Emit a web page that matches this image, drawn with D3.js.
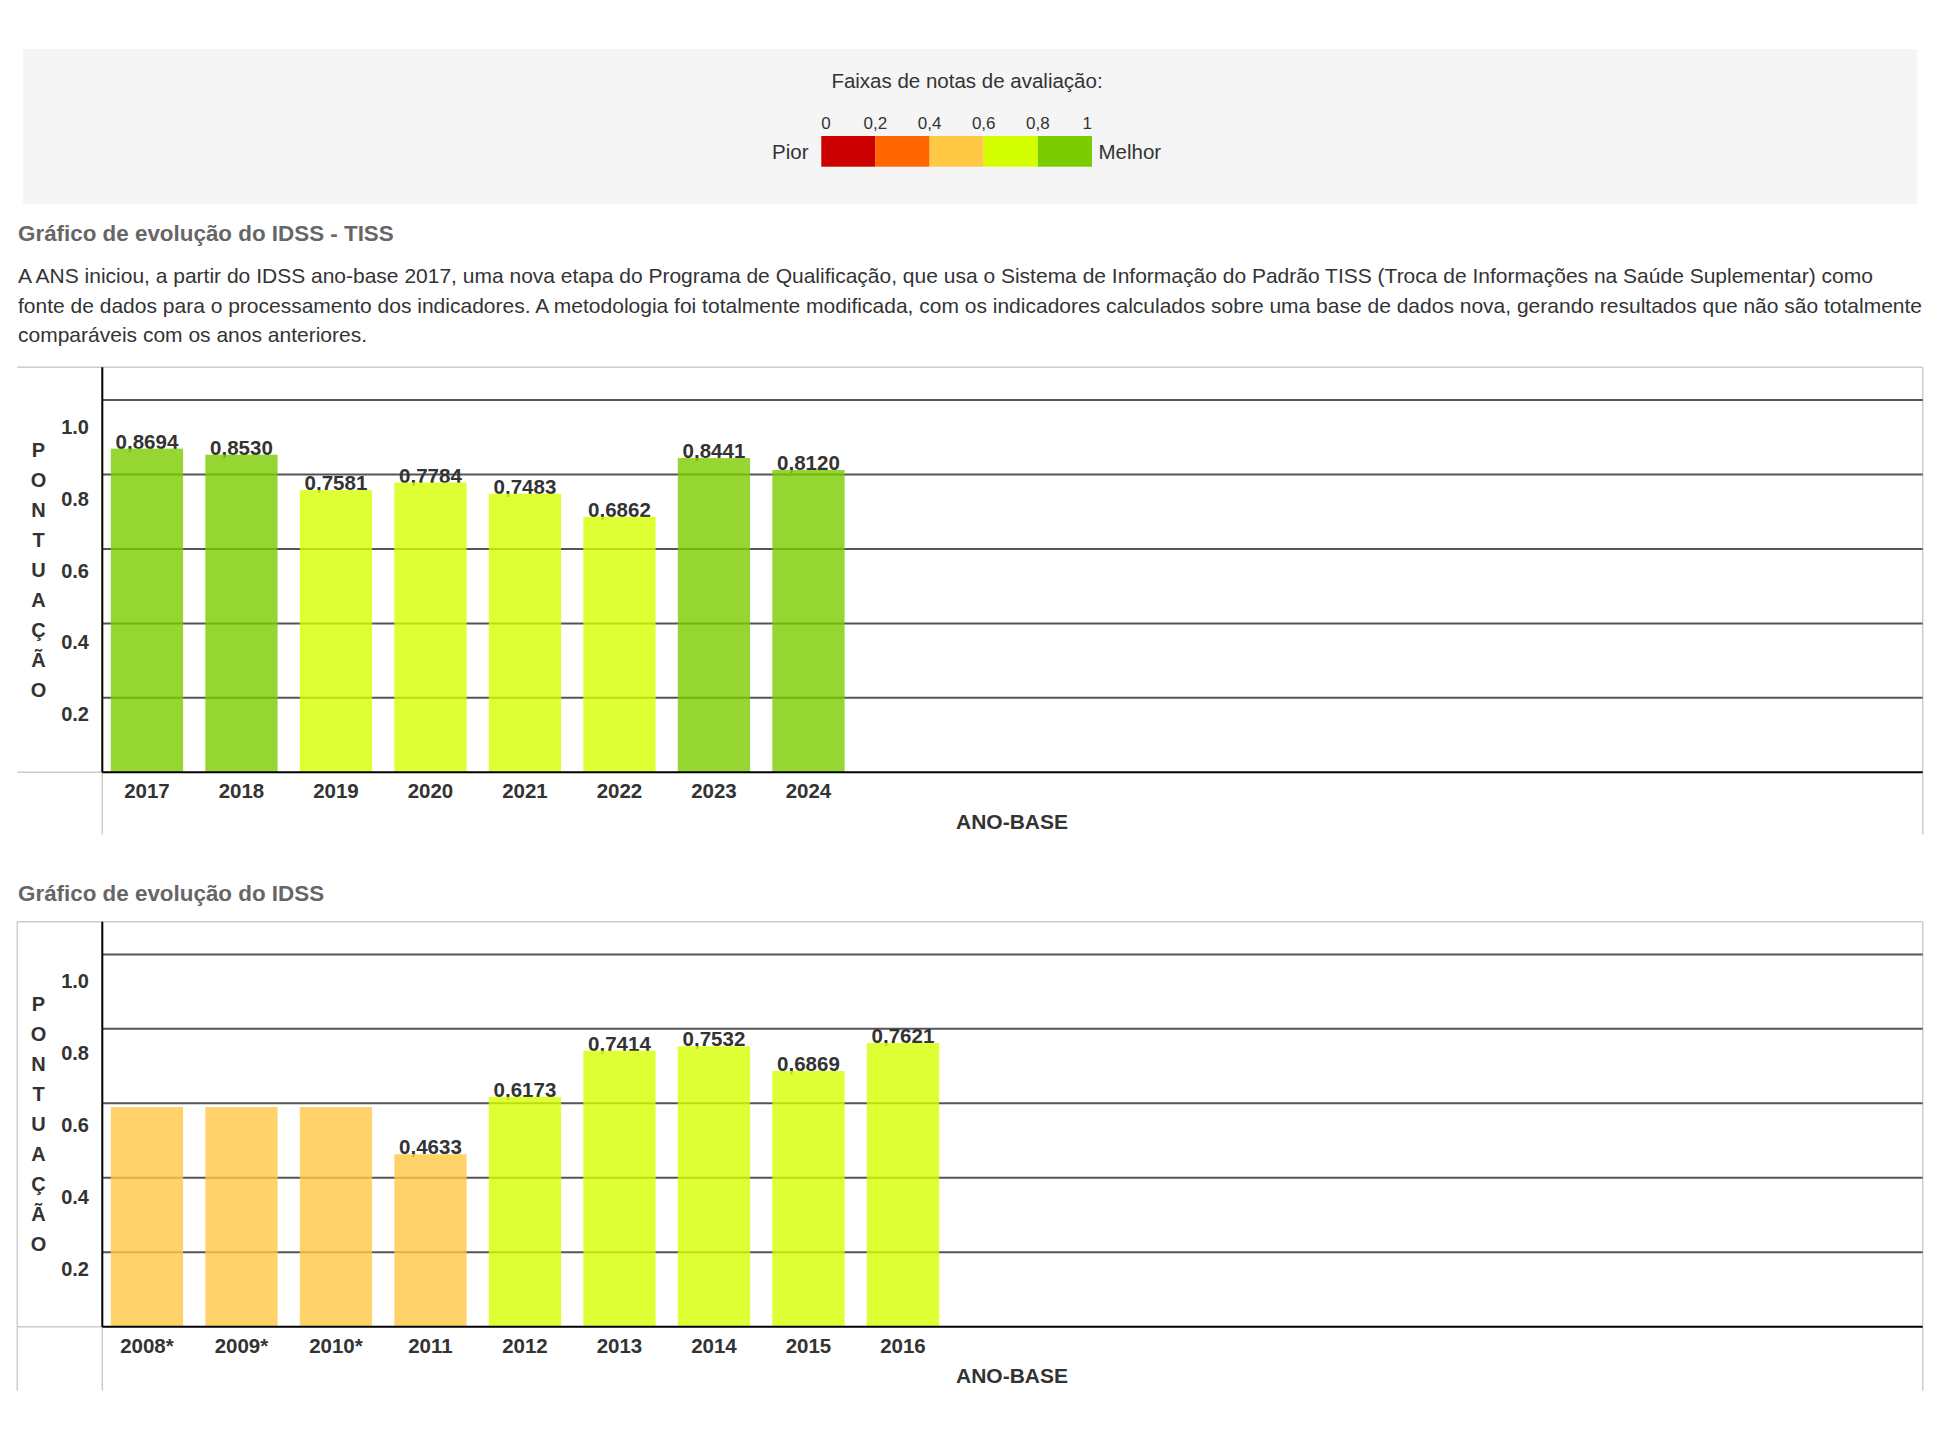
<!DOCTYPE html>
<html lang="pt-BR">
<head>
<meta charset="utf-8">
<script src="https://cdn.jsdelivr.net/npm/d3@7"></script>
<style>
  html, body { margin: 0; padding: 0; background: #fff; }
  svg { display: block; font-family: "Liberation Sans", Arial, sans-serif; }
</style>
</head>
<body>
<svg id="page" width="1942" height="1436"></svg>
<script>
// ---------------- DATA ----------------
const legendTitle = "Faixas de notas de avaliação:";
const legendStops = [0, 0.2, 0.4, 0.6, 0.8, 1];
const legendStopLabels = ["0", "0,2", "0,4", "0,6", "0,8", "1"];
const legendColors = ["#CC0000", "#FF6600", "#FFC845", "#D4FF00", "#7ACC00"];
const legendLow = "Pior";
const legendHigh = "Melhor";

const tissTitle = "Gráfico de evolução do IDSS - TISS";
const tissText = [
  "A ANS iniciou, a partir do IDSS ano-base 2017, uma nova etapa do Programa de Qualificação, que usa o Sistema de Informação do Padrão TISS (Troca de Informações na Saúde Suplementar) como",
  "fonte de dados para o processamento dos indicadores. A metodologia foi totalmente modificada, com os indicadores calculados sobre uma base de dados nova, gerando resultados que não são totalmente",
  "comparáveis com os anos anteriores."
];
const tissYears = ["2017", "2018", "2019", "2020", "2021", "2022", "2023", "2024"];
const tissValues = [0.8694, 0.8530, 0.7581, 0.7784, 0.7483, 0.6862, 0.8441, 0.8120];
const tissShowLabel = [true, true, true, true, true, true, true, true];

const idssTitle = "Gráfico de evolução do IDSS";
const idssYears = ["2008*", "2009*", "2010*", "2011", "2012", "2013", "2014", "2015", "2016"];
const idssValues = [0.59, 0.59, 0.59, 0.4633, 0.6173, 0.7414, 0.7532, 0.6869, 0.7621];
const idssShowLabel = [false, false, false, true, true, true, true, true, true];

const gridValues = [1.0, 0.8, 0.6, 0.4, 0.2];
const tickValues = [1.0, 0.8, 0.6, 0.4, 0.2];
const yAxisTitle = "PONTUAÇÃO";
const xAxisTitle = "ANO-BASE";

// ---------------- HELPERS ----------------
const svg = d3.select("#page");
const ptBR = d3.formatLocale({decimal: ",", thousands: ".", grouping: [3], currency: ["R$", ""]});
const fmtValue = ptBR.format(".4f");
const fmtTick = d3.format(".1f");
const bandColor = d3.scaleThreshold().domain(legendStops.slice(1, -1)).range(legendColors);
const TXT = "#333";
const LBL = 20.5;

// ---------------- LEGEND ----------------
const lg = svg.append("g");
lg.append("rect").attr("x", 23).attr("y", 49).attr("width", 1894).attr("height", 155).attr("fill", "#f5f5f5");
lg.append("text").attr("x", 967).attr("y", 87.5).attr("text-anchor", "middle")
  .attr("font-size", 20.5).attr("fill", TXT).text(legendTitle);

const lx = d3.scaleLinear().domain([0, 1]).range([821.3, 1092]);
lg.selectAll("rect.seg").data(legendColors).join("rect").attr("class", "seg")
  .attr("x", (d, i) => lx(legendStops[i]))
  .attr("width", (d, i) => lx(legendStops[i + 1]) - lx(legendStops[i]))
  .attr("y", 136).attr("height", 30.7).attr("fill", d => d);
lg.selectAll("text.stop").data(legendStops).join("text").attr("class", "stop")
  .attr("x", (d, i) => lx(d))
  .attr("y", 129)
  .attr("text-anchor", (d, i) => i === 0 ? "start" : (i === legendStops.length - 1 ? "end" : "middle"))
  .attr("font-size", 17).attr("fill", TXT)
  .text((d, i) => legendStopLabels[i]);
lg.append("text").attr("x", 808.5).attr("y", 159).attr("text-anchor", "end")
  .attr("font-size", 20.5).attr("fill", TXT).text(legendLow);
lg.append("text").attr("x", 1098.5).attr("y", 159)
  .attr("font-size", 20.5).attr("fill", TXT).text(legendHigh);

// ---------------- TITLES & TEXT ----------------
function sectionTitle(txt, y) {
  svg.append("text").attr("x", 18).attr("y", y).attr("font-size", 22.4).attr("font-weight", "bold")
    .attr("fill", "#666").text(txt);
}
sectionTitle(tissTitle, 240.7);
svg.append("g").selectAll("text").data(tissText).join("text")
  .attr("x", 18).attr("y", (d, i) => 283.3 + i * 29.4)
  .attr("font-size", 21).attr("fill", TXT).text(d => d);
sectionTitle(idssTitle, 901);

// ---------------- CHART ----------------
function drawChart(top, years, values, showLabel, bottomExt, leftBorder) {
  const g = svg.append("g");
  const axisX = 102.3, rightX = 1922.7, leftX = 17.3;
  const baseY = top + 405;
  const bottomY = baseY + bottomExt;
  const y = d3.scaleLinear().domain([0, 1]).range([baseY, top + 32.7]);
  const yLab = d3.scaleLinear().domain([0, 1]).range([top + 425.7, top + 66.7]);
  const x = d3.scaleBand().domain(years)
    .range([99.7, 99.7 + 94.5 * years.length])
    .paddingInner(0.235).paddingOuter(0.1175);

  // frame
  g.append("line").attr("x1", leftX).attr("x2", rightX).attr("y1", top).attr("y2", top)
    .attr("stroke", "#ccc").attr("stroke-width", 1.5);
  g.append("line").attr("x1", rightX).attr("x2", rightX).attr("y1", top).attr("y2", bottomY)
    .attr("stroke", "#ccc").attr("stroke-width", 1.5);
  if (leftBorder) {
    g.append("line").attr("x1", leftX).attr("x2", leftX).attr("y1", top).attr("y2", bottomY)
      .attr("stroke", "#ccc").attr("stroke-width", 1.5);
  }
  g.append("line").attr("x1", leftX).attr("x2", axisX).attr("y1", baseY).attr("y2", baseY)
    .attr("stroke", "#ccc").attr("stroke-width", 1.5);
  g.append("line").attr("x1", axisX).attr("x2", axisX).attr("y1", baseY).attr("y2", bottomY)
    .attr("stroke", "#ccc").attr("stroke-width", 1.5);

  // gridlines
  g.selectAll("line.grid").data(gridValues).join("line").attr("class", "grid")
    .attr("x1", axisX).attr("x2", rightX)
    .attr("y1", d => y(d)).attr("y2", d => y(d))
    .attr("stroke", "#555").attr("stroke-width", 2);

  // value labels (under semi-transparent bars)
  g.selectAll("text.val").data(values.map((v, i) => ({v, i})).filter(d => showLabel[d.i]))
    .join("text").attr("class", "val")
    .attr("x", d => x(years[d.i]) + x.bandwidth() / 2)
    .attr("y", d => y(d.v))
    .attr("text-anchor", "middle").attr("font-size", LBL).attr("font-weight", "bold")
    .attr("fill", TXT).text(d => fmtValue(d.v));

  // bars
  g.selectAll("rect.bar").data(values).join("rect").attr("class", "bar")
    .attr("x", (d, i) => x(years[i]))
    .attr("width", x.bandwidth())
    .attr("y", d => y(d))
    .attr("height", d => baseY - y(d))
    .attr("fill", d => bandColor(d)).attr("fill-opacity", 0.8);

  // axes lines
  g.append("line").attr("x1", axisX).attr("x2", rightX).attr("y1", baseY).attr("y2", baseY)
    .attr("stroke", "#000").attr("stroke-width", 2);
  g.append("line").attr("x1", axisX).attr("x2", axisX).attr("y1", top).attr("y2", baseY)
    .attr("stroke", "#000").attr("stroke-width", 2);

  // y tick labels
  g.selectAll("text.tick").data(tickValues).join("text").attr("class", "tick")
    .attr("x", 89).attr("y", d => yLab(d)).attr("text-anchor", "end")
    .attr("font-size", 20).attr("font-weight", "bold").attr("fill", TXT)
    .text(d => fmtTick(d));

  // y title (vertical letters)
  g.selectAll("text.ytitle").data(Array.from(yAxisTitle)).join("text").attr("class", "ytitle")
    .attr("x", 38.5).attr("y", (d, i) => top + 89.7 + i * 30)
    .attr("text-anchor", "middle").attr("font-size", 20).attr("font-weight", "bold")
    .attr("fill", TXT).text(d => d);

  // x labels
  g.selectAll("text.year").data(years).join("text").attr("class", "year")
    .attr("x", d => x(d) + x.bandwidth() / 2).attr("y", baseY + 26)
    .attr("text-anchor", "middle").attr("font-size", LBL).attr("font-weight", "bold")
    .attr("fill", TXT).text(d => d);

  g.append("text").attr("x", 1012).attr("y", baseY + 56.7).attr("text-anchor", "middle")
    .attr("font-size", 21).attr("font-weight", "bold").attr("fill", TXT).text(xAxisTitle);
}

drawChart(367.3, tissYears, tissValues, tissShowLabel, 62, false);
drawChart(921.7, idssYears, idssValues, idssShowLabel, 64, true);
</script>
</body>
</html>
